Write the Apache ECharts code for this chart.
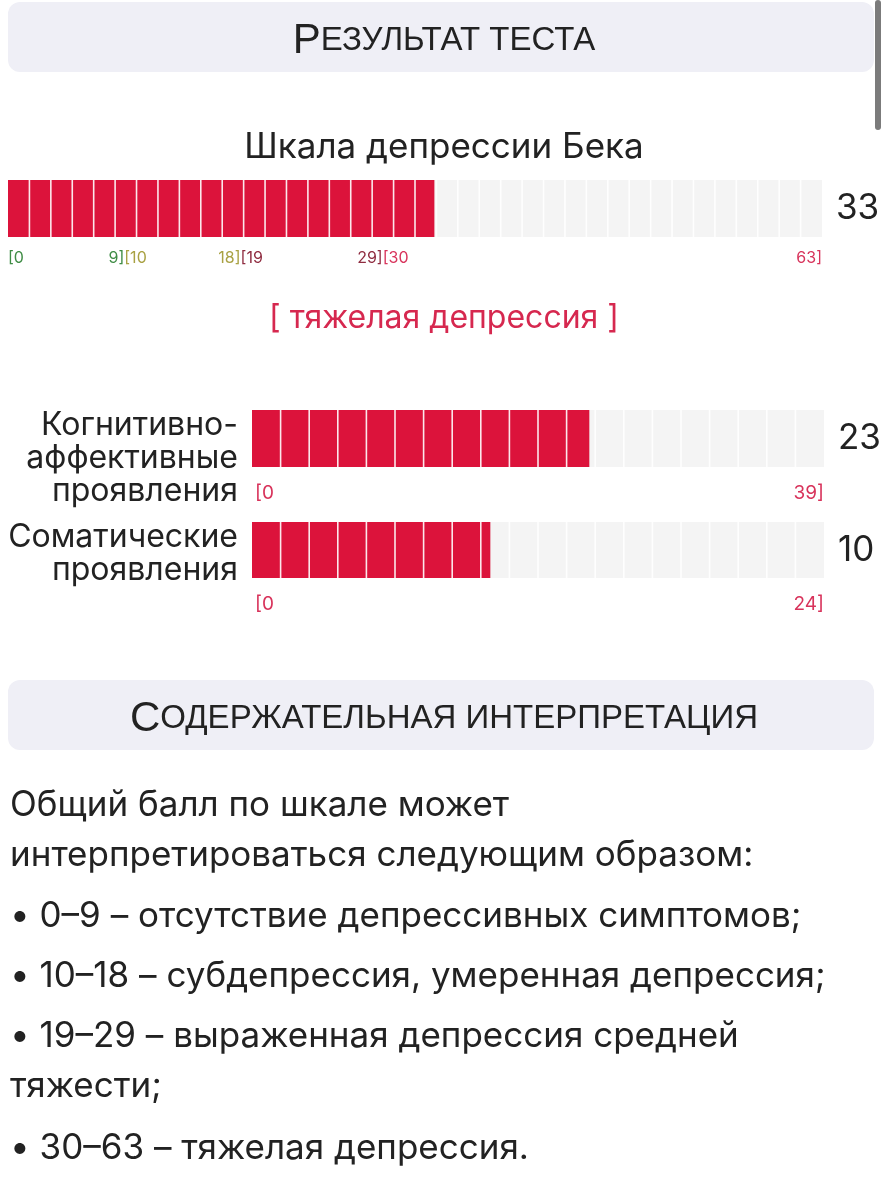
<!DOCTYPE html>
<html>
<head>
<meta charset="utf-8">
<script src="https://cdn.jsdelivr.net/npm/echarts@6/dist/echarts.min.js"></script>
<style>
  html, body { margin: 0; padding: 0; background: #ffffff; }
  #chart { width: 889px; height: 1200px; }
</style>
</head>
<body>
<div id="chart"></div>
<script>
// ---------------- data ----------------
const headerTitle = ['Р', 'ЕЗУЛЬТАТ ТЕСТА'];
const interpretationHeader = ['С', 'ОДЕРЖАТЕЛЬНАЯ ИНТЕРПРЕТАЦИЯ'];
const scaleNames = ['Шкала депрессии Бека', 'Когнитивно-\nаффективные\nпроявления', 'Соматические\nпроявления'];
const scaleMax = [63, 39, 24];
const scaleValues = [33, 23, 10];
const rangeStarts = [0, 10, 19, 30];
const rangeEnds = [9, 18, 29, 63];
const rangeColors = ['#3f8c45', '#a9a143', '#8f2c40', '#d8335b'];
const rangeNames = ['отсутствие депрессивных симптомов', 'субдепрессия, умеренная депрессия', 'выраженная депрессия средней тяжести', 'тяжелая депрессия'];
const introLines = ['Общий балл по шкале может', 'интерпретироваться следующим образом:'];
const bulletLines = [
  ['• 0–9 – отсутствие депрессивных симптомов;'],
  ['• 10–18 – субдепрессия, умеренная депрессия;'],
  ['• 19–29 – выраженная депрессия средней', 'тяжести;'],
  ['• 30–63 – тяжелая депрессия.']
];

// ---------------- style ----------------
const FONT = 'Inter, "Noto Sans", "Liberation Sans", sans-serif';
const HFONT = '"Liberation Sans Narrow", "Liberation Sans", sans-serif';
const RED = '#dc133b';
const GRAY = '#f4f4f4';
const TEXT = '#222222';
const SEGMENTS = [38, 20, 20];
const PAGE_CENTER = 444;

const grids = [
  { left: 8, top: 180, width: 814, height: 57 },
  { left: 252, top: 410, width: 572, height: 57 },
  { left: 252, top: 522, width: 572, height: 56 }
];

const verdictIndex = rangeStarts.findIndex((s, i) => scaleValues[0] >= s && scaleValues[0] <= rangeEnds[i]);
const verdict = '[ ' + rangeNames[verdictIndex] + ' ]';

// label items for each grid: {v, text, color, align, kind}
function labelItems(i) {
  const items = [];
  if (i === 0) {
    rangeStarts.forEach((s, r) => {
      items.push({ v: r === 0 ? 0 : rangeEnds[r - 1], text: '[' + s, color: rangeColors[r], align: 'left', kind: 'tick' });
      items.push({ v: rangeEnds[r], text: rangeEnds[r] + ']', color: rangeColors[r], align: 'right', kind: 'tick' });
    });
    items.push({ v: 0, text: scaleNames[0], color: TEXT, align: 'center', kind: 'title' });
    items.push({ v: 0, text: verdict, color: '#d6284f', align: 'center', kind: 'verdict' });
  } else {
    items.push({ v: 0, text: '[0', color: '#d8335b', align: 'left', kind: 'tick' });
    items.push({ v: scaleMax[i], text: scaleMax[i] + ']', color: '#d8335b', align: 'right', kind: 'tick' });
    items.push({ v: 0, text: scaleNames[i], color: TEXT, align: 'right', kind: 'name' });
  }
  return items;
}

const option = {
  animation: false,
  grid: grids.map(g => Object.assign({ containLabel: false }, g)),
  xAxis: grids.map((g, i) => ({ type: 'value', gridIndex: i, min: 0, max: scaleMax[i], show: false })),
  yAxis: grids.map((g, i) => ({ type: 'category', gridIndex: i, data: [scaleNames[i]], show: false })),
  series: [],
  graphic: []
};

grids.forEach((g, i) => {
  option.series.push({
    type: 'bar', xAxisIndex: i, yAxisIndex: i, data: [scaleMax[i]], barWidth: '100%', barGap: '-100%',
    itemStyle: { color: GRAY }, silent: true, z: 1,
    label: { show: true, position: 'right', distance: 14, formatter: () => String(scaleValues[i]), fontSize: 35, fontFamily: FONT, color: TEXT }
  });
  option.series.push({
    type: 'bar', xAxisIndex: i, yAxisIndex: i, data: [scaleValues[i]], barWidth: '100%', barGap: '-100%',
    itemStyle: { color: RED }, silent: true, z: 2
  });
  // segment separators
  option.series.push({
    type: 'custom', xAxisIndex: i, yAxisIndex: i, data: [[0, 0]], silent: true, z: 3,
    renderItem: (params, api) => {
      const a = api.coord([0, 0]);
      const b = api.coord([scaleMax[i], 0]);
      const h = api.size([0, 1])[1];
      const n = SEGMENTS[i];
      const step = (b[0] - a[0]) / n;
      const children = [];
      for (let k = 1; k < n; k++) {
        const x = a[0] + k * step;
        children.push({ type: 'line', shape: { x1: x, y1: a[1] - h / 2, x2: x, y2: a[1] + h / 2 }, style: { stroke: 'rgba(255,255,255,0.9)', lineWidth: 1.6 } });
      }
      return { type: 'group', children };
    }
  });
  // labels
  const items = labelItems(i);
  option.series.push({
    type: 'custom', xAxisIndex: i, yAxisIndex: i, data: items.map(it => [it.v, 0]), silent: true, z: 4, clip: false,
    renderItem: (params, api) => {
      const it = items[params.dataIndex];
      const p = api.coord([api.value(0), 0]);
      const h = api.size([0, 1])[1];
      if (it.kind === 'tick') {
        const fs = i === 0 ? 16 : 19;
        const off = i === 0 ? 21 : 26;
        const dx = (i > 0 && it.align === 'left') ? 3 : 0;
        return { type: 'text', x: p[0] + dx, y: p[1] + h / 2 + off, style: { text: it.text, fill: it.color, align: it.align, verticalAlign: 'middle', fontSize: fs, fontFamily: FONT } };
      }
      if (it.kind === 'title') {
        return { type: 'text', x: PAGE_CENTER, y: p[1] - h / 2 - 33, style: { text: it.text, fill: it.color, align: 'center', verticalAlign: 'middle', fontSize: 35, fontFamily: FONT } };
      }
      if (it.kind === 'verdict') {
        return { type: 'text', x: PAGE_CENTER, y: p[1] + h / 2 + 81, style: { text: it.text, fill: it.color, align: 'center', verticalAlign: 'middle', fontSize: 32, fontFamily: FONT } };
      }
      // name
      return { type: 'text', x: p[0] - 14, y: p[1] - h / 2 - 1, style: { text: it.text, fill: it.color, align: 'right', verticalAlign: 'top', fontSize: 32, lineHeight: 33, fontFamily: FONT } };
    }
  });
});

// header boxes
function headerBox(y, h, parts) {
  option.graphic.push({ type: 'rect', left: 8, top: y, shape: { width: 866, height: h, r: 12 }, style: { fill: '#efeff6' }, silent: true, z: 0 });
  option.graphic.push({
    type: 'text', x: 444, y: y + h / 2 + 4, silent: true, z: 1,
    style: {
      text: '{b|' + parts[0] + '}{s|' + parts[1] + '}', align: 'center', verticalAlign: 'middle',
      rich: { b: { fontSize: 42, fontFamily: HFONT, fill: TEXT, color: TEXT }, s: { fontSize: 33, fontFamily: HFONT, fill: TEXT, color: TEXT } }
    }
  });
}
headerBox(2, 70, headerTitle);
headerBox(680, 70, interpretationHeader);

// scrollbar
option.graphic.push({ type: 'rect', left: 875, top: 0, shape: { width: 6, height: 130, r: 3 }, style: { fill: '#7b7b7b' }, silent: true, z: 5 });

// paragraph
const lineYs = [805, 855, 916, 976, 1036, 1086, 1148];
const allLines = introLines.concat(...bulletLines);
allLines.forEach((t, k) => {
  option.graphic.push({ type: 'text', x: 10, y: lineYs[k], silent: true, style: { text: t, fill: TEXT, fontSize: 35, fontFamily: FONT, verticalAlign: 'middle', align: 'left' } });
});

const chart = echarts.init(document.getElementById('chart'), null, { renderer: 'canvas' });
chart.setOption(option);
</script>
</body>
</html>
